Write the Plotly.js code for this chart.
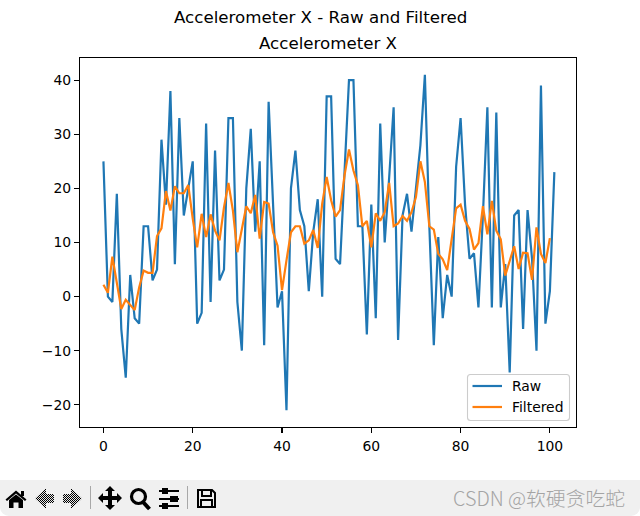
<!DOCTYPE html>
<html>
<head>
<meta charset="utf-8">
<script src="https://cdn.plot.ly/plotly-3.0.1.min.js"></script>
<style>
html,body{margin:0;padding:0;background:#fff;width:640px;height:516px;overflow:hidden;font-family:"DejaVu Sans",sans-serif}
#plot{position:absolute;left:0;top:0;width:640px;height:480px}
#bar{position:absolute;left:0;top:480px;width:640px;height:36px;background:#f0f0f0;border-radius:0 0 9px 9px}
#bar svg{position:absolute;left:0;top:0}
#mark{position:absolute;right:15px;top:3px;font:19.8px "Noto Sans CJK SC","DejaVu Sans",sans-serif;font-weight:300;color:#a4a4a4;white-space:nowrap}
</style>
</head>
<body>
<div id="plot"></div>
<div id="bar">
<svg width="640" height="36" viewBox="0 0 640 36">
  <defs>
    <pattern id="dither" width="2" height="2" patternUnits="userSpaceOnUse">
      <rect width="2" height="2" fill="#e8e8e8"/>
      <rect width="1" height="1" fill="#000"/>
      <rect x="1" y="1" width="1" height="1" fill="#000"/>
    </pattern>
  </defs>
  <g fill="#000">
    <path d="M16 10.5 L26.5 19.5 L25 21 L16 13.5 L7 21 L5.5 19.5 Z"/>
    <path d="M9 20 L16 14.5 L23 20 L23 28 L18.5 28 L18.5 22.5 L13.5 22.5 L13.5 28 L9 28 Z"/>
    <rect x="21" y="11" width="3" height="5"/>
  </g>
  <g fill="url(#dither)">
    <path d="M35 18.5 L45 9 L46 9 L46 14 L54 14 L54 23 L46 23 L46 28 L45 28 Z"/>
    <path d="M82 18.5 L72 9 L71 9 L71 14 L63 14 L63 23 L71 23 L71 28 L72 28 Z"/>
  </g>
  <rect x="90" y="6" width="1" height="23" fill="#a8a8a8"/>
  <g fill="#000">
    <path d="M110 6 L115 11 L112 11 L112 16 L117 16 L117 13 L122 18 L117 23 L117 20 L112 20 L112 25 L115 25 L110 30 L105 25 L108 25 L108 20 L103 20 L103 23 L98 18 L103 13 L103 16 L108 16 L108 11 L105 11 Z"/>
  </g>
  <g fill="none" stroke="#000" stroke-width="3.2">
    <circle cx="138.5" cy="16.5" r="7"/>
    <path d="M143 22 L149.5 29" stroke-width="4"/>
  </g>
  <g fill="#000">
    <rect x="159" y="10" width="20" height="2"/><rect x="162" y="8" width="6" height="6"/>
    <rect x="159" y="18" width="20" height="2"/><rect x="170" y="16" width="8" height="6"/>
    <rect x="159" y="25" width="20" height="2"/><rect x="162" y="23" width="6" height="6"/>
  </g>
  <rect x="187" y="6" width="1" height="23" fill="#a8a8a8"/>
  <g fill="none" stroke="#000" stroke-width="2">
    <path d="M198 10 L212 10 L215 13 L215 27 L198 27 Z"/>
    <rect x="202" y="10" width="9" height="6"/>
    <rect x="201" y="20" width="11" height="7"/>
  </g>
</svg>
<div id="mark">CSDN @软硬贪吃蛇</div>
</div>
<script>
const rawValues = [25,0,-1,19,-6,-15,4,-4,-5,13,13,3,5,29,17,38,6,33,15,20,25,-5,-3,32,-1,27,3,5,33,33,-1,-10,20,31,12,25,-9,36,18,-2,1,-21,20,27,16,13,1,12,18,0,37,37,7,6,23,40,40,13,13,-7,17,-4,32,10,22,35,-8,15,19,12,20,28,41,13,-9,11,-4,4,0,24,33,17,7,8,-2,15,35,-2,34,-2,6,-14,15,16,-6,16,7,-10,39,-5,1,23];
const filteredValues = [2.2,0.7,7.4,2.7,-2.3,-0.6,-1.5,-2.5,1.7,4.8,4.4,4.4,11.2,12.6,19.5,15.9,20.4,19.1,19.1,20.6,14.4,9.1,15.3,11,15.2,12.2,10.4,16.5,21,15.9,8.2,12.2,16.7,15.4,18.8,10.7,17.5,17.2,11.9,9.4,1.2,6.7,11.9,13,13,9.8,10.4,12.3,9,17.2,22.1,17.8,14.8,16,22.4,27.2,23.3,20.6,13,14,9.1,15.4,14,15.6,21,13,13.5,14.9,14,15.6,18.4,25,21.2,13,12.4,7.9,6.9,4.9,10.4,16.3,17,14,12.5,8.7,9.9,16.7,11.5,17.7,12.2,10.6,3.9,6.7,9.3,5.1,8.1,8,3.1,12.8,7.9,6.2,10.8];
const xTicks = [0,20,40,60,80,100];
const yTicks = [-20,-10,0,10,20,30,40];
const seriesNames = ['Raw', 'Filtered'];
const seriesColors = ['#1f77b4', '#ff7f0e'];
const index = a => a.map((_, i) => i);
const font = {family: '"DejaVu Sans", sans-serif', size: 13.9, color: '#000'};
const axis = {
  showgrid: false, zeroline: false, showline: true, mirror: true,
  linecolor: '#000', linewidth: 1.1, ticks: 'outside', ticklen: 5, tickwidth: 1.1,
  tickcolor: '#000', tickfont: font, tickmode: 'array'
};
// legend box drawn in paper coordinates so it can have rounded corners and matplotlib's spacing
const px = v => (v - 80) / 496;
const py = v => (427 - v) / 369;
const box = {l: 467.5, r: 569.5, t: 374.5, b: 420.5, rad: 3};
const boxPath = 'M' + px(box.l + box.rad) + ',' + py(box.t) +
  ' L' + px(box.r - box.rad) + ',' + py(box.t) + ' Q' + px(box.r) + ',' + py(box.t) + ' ' + px(box.r) + ',' + py(box.t + box.rad) +
  ' L' + px(box.r) + ',' + py(box.b - box.rad) + ' Q' + px(box.r) + ',' + py(box.b) + ' ' + px(box.r - box.rad) + ',' + py(box.b) +
  ' L' + px(box.l + box.rad) + ',' + py(box.b) + ' Q' + px(box.l) + ',' + py(box.b) + ' ' + px(box.l) + ',' + py(box.b - box.rad) +
  ' L' + px(box.l) + ',' + py(box.t + box.rad) + ' Q' + px(box.l) + ',' + py(box.t) + ' ' + px(box.l + box.rad) + ',' + py(box.t) + ' Z';
const rowY = [386, 407];
const legendShapes = [{type: 'path', xref: 'paper', yref: 'paper', path: boxPath, layer: 'above',
                       fillcolor: 'rgba(255,255,255,0.8)', line: {color: '#cccccc', width: 1.1}}]
  .concat(seriesNames.map((n, i) => ({type: 'line', xref: 'paper', yref: 'paper', layer: 'above',
    x0: px(472.5), x1: px(502), y0: py(rowY[i]), y1: py(rowY[i]), line: {color: seriesColors[i], width: 2.2}})));
const legendLabels = seriesNames.map((n, i) => ({text: n, xref: 'paper', yref: 'paper', x: px(510), y: py(rowY[i]),
  xanchor: 'left', yanchor: 'middle', showarrow: false, font: font}));
Plotly.newPlot('plot', [
  {x: index(rawValues), y: rawValues, name: seriesNames[0], mode: 'lines', line: {color: seriesColors[0], width: 2.2}},
  {x: index(filteredValues), y: filteredValues, name: seriesNames[1], mode: 'lines', line: {color: seriesColors[1], width: 2.2}}
], {
  width: 640, height: 480, paper_bgcolor: '#fff', plot_bgcolor: '#fff',
  margin: {l: 80, r: 64, t: 58, b: 53},
  font: font, showlegend: false,
  title: {text: 'Accelerometer X', font: {family: font.family, size: 16.67, color: '#000'},
          x: 0.5125, xanchor: 'center', y: 0.91, yanchor: 'middle'},
  xaxis: Object.assign({}, axis, {range: [-5.25, 105.85], tickvals: xTicks, ticktext: xTicks.map(String), ticklabelstandoff: 1}),
  yaxis: Object.assign({}, axis, {range: [-24.1, 44.1], tickvals: yTicks, ticktext: yTicks.map(v => v < 0 ? '\u2212' + (-v) : String(v))}),
  shapes: legendShapes,
  annotations: [{text: 'Accelerometer X - Raw and Filtered', xref: 'paper', yref: 'paper', x: 0.4839, y: 1.1085,
                 xanchor: 'center', yanchor: 'middle', showarrow: false,
                 font: {family: font.family, size: 16.67, color: '#000'}}].concat(legendLabels)
}, {displayModeBar: false, staticPlot: true});
</script>
</body>
</html>
